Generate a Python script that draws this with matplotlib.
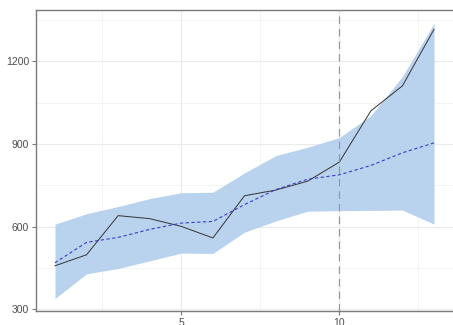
import matplotlib
matplotlib.use("Agg")
import matplotlib.pyplot as plt
from matplotlib.ticker import MultipleLocator

plt.rcParams['font.family'] = ['Liberation Sans', 'DejaVu Sans']

# Observed series, fitted mean and prediction band per period
periods = list(range(1, 14))
observed = [458, 498, 640, 629, 601, 559, 712, 733, 765, 834, 1020, 1111, 1316]
fitted = [469, 543, 561, 590, 613, 619, 680, 735, 772, 788, 822, 868, 904]
band_upper = [609, 647, 673, 702, 723, 725, 795, 858, 888, 923, 1003, 1145, 1338]
band_lower = [339, 429, 448, 476, 504, 503, 580, 621, 656, 658, 659, 660, 609]
cutoff = 10

y_ticks = [300, 600, 900, 1200]
x_ticks = [5, 10]

fig = plt.figure(figsize=(4.53, 3.25), dpi=100)
ax = fig.add_axes([36 / 453, 1 - 311 / 325, 417 / 453, 301 / 325])

ax.fill_between(periods, band_lower, band_upper, color='#b9d3ee', lw=0, zorder=2)
ax.plot(periods, observed, color='#333333', lw=0.7, zorder=3)
ax.plot(periods, fitted, color='#3d3dc4', lw=0.8, ls=(0, (3, 2.2)), zorder=4)
ax.axvline(cutoff, color='#999999', lw=0.9, ls=(0, (6, 4)), zorder=5)

ax.set_xlim(0.4, 13.6)
ax.set_ylim(294, 1386)
ax.set_xticks(x_ticks)
ax.set_yticks(y_ticks)
ax.xaxis.set_minor_locator(MultipleLocator(2.5))
ax.yaxis.set_minor_locator(MultipleLocator(150))

ax.grid(which='major', color='#ebebeb', lw=0.8, zorder=0)
ax.grid(which='minor', color='#f3f3f3', lw=0.6, zorder=0)
ax.set_axisbelow(True)

for side in ['left', 'bottom', 'top']:
    ax.spines[side].set_color('#7a7a7a')
    ax.spines[side].set_linewidth(1.0)
ax.spines['right'].set_visible(False)

ax.tick_params(which='major', length=3, width=0.8, color='#7a7a7a',
               labelsize=7.5, labelcolor='#4d4d4d', pad=2)
ax.tick_params(which='minor', length=0)

fig.savefig('out.png', dpi=100, facecolor='white')
